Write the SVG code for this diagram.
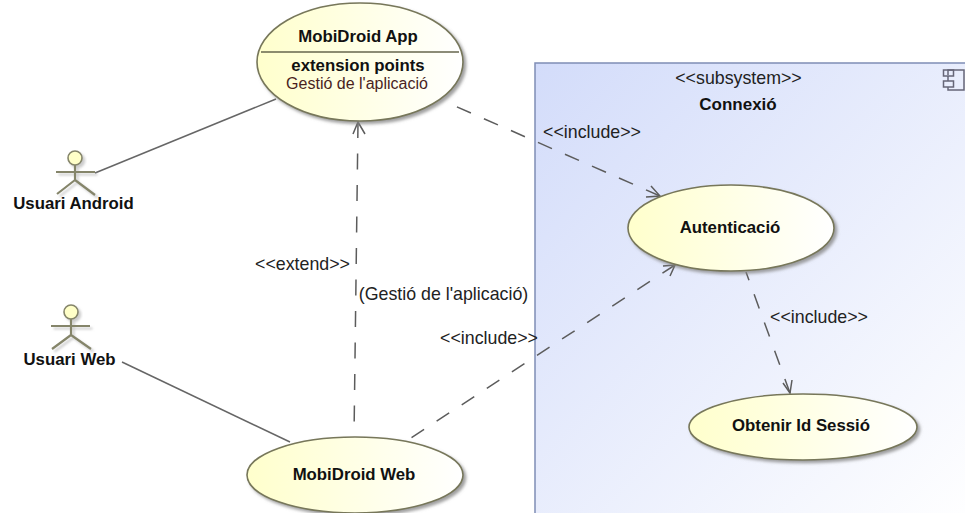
<svg xmlns="http://www.w3.org/2000/svg" width="965" height="513" viewBox="0 0 965 513">
<style>
text{font-family:"Liberation Sans",Arial,sans-serif;font-size:17.800px;fill:#222;text-anchor:middle}
.b{font-weight:bold;font-size:16.800px;fill:#111}
.uc{fill:url(#uc);stroke:#77775a;stroke-width:1.6;filter:url(#sh)}
.act{fill:none;stroke:#85856a;stroke-width:2.200;filter:url(#sh2)}
.head-ball{fill:#ffffc8;stroke:#85856a;stroke-width:1.6;filter:url(#sh2)}
.assoc{fill:none;stroke:#666;stroke-width:1.5}
.dash{fill:none;stroke:#5c5c5c;stroke-width:1.5;stroke-dasharray:15 15}
.head{fill:none;stroke:#5c5c5c;stroke-width:1.5}
</style>
<defs>
<linearGradient id="uc" x1="0" y1="0" x2="1" y2="0"><stop offset="0" stop-color="#ffffcc"/><stop offset="1" stop-color="#ffffff"/></linearGradient>
<linearGradient id="sub" x1="0" y1="0" x2="1" y2="1"><stop offset="0" stop-color="#d3dcfa"/><stop offset="1" stop-color="#ffffff"/></linearGradient>
<filter id="sh" x="-10%" y="-10%" width="125%" height="130%"><feDropShadow dx="2.500" dy="2.500" stdDeviation="1.500" flood-color="#888" flood-opacity=".8"/></filter>
<filter id="sh2" x="-20%" y="-20%" width="150%" height="150%"><feDropShadow dx="2.500" dy="2.500" stdDeviation="1" flood-color="#aaa" flood-opacity=".6"/></filter>
</defs>
<rect width="965" height="513" fill="#fff"/>
<g id="subsystem">
<rect x="535" y="63" width="440" height="460" fill="url(#sub)" stroke="#7f8db5" stroke-width="1.5"/>
<text x="738.500" y="84">&lt;&lt;subsystem&gt;&gt;</text>
<text x="738" y="110" class="b" style="font-size:17px">Connexió</text>
<path d="M948 75V70H964V90H948V87M948 81V76" fill="none" stroke="#667" stroke-width="1.5"/>
<rect x="943.500" y="70" width="10" height="6" fill="none" stroke="#667" stroke-width="1.5"/>
<rect x="943.500" y="81" width="10" height="6" fill="none" stroke="#667" stroke-width="1.5"/>
</g>
<g id="connectors">
<path class="assoc" d="M95 173L276 99"/>
<path class="assoc" d="M122 362L290 442"/>
<path class="dash" d="M358 122L354 437" style="stroke-dasharray:16 15.500"/>
<path class="head" d="M353 134L358 122L365 134"/>
<path class="dash" d="M660 196L455 106" style="stroke-dasharray:15.300 14.200"/>
<path class="head" d="M651 186L660 196L646 197"/>
<path class="dash" d="M675 265L411 438"/>
<path class="head" d="M663 266L675 265L670 276"/>
<path class="dash" d="M790 393L746 272"/>
<path class="head" d="M783 383L790 393L792 380"/>
<text x="302.500" y="270">&lt;&lt;extend&gt;&gt;</text>
<text x="443.500" y="300">(Gestió de l'aplicació)</text>
<text x="592" y="138">&lt;&lt;include&gt;&gt;</text>
<text x="489" y="344">&lt;&lt;include&gt;&gt;</text>
<text x="819" y="323">&lt;&lt;include&gt;&gt;</text>
</g>
<g id="mobidroid-app">
<ellipse class="uc" cx="360" cy="62" rx="103" ry="59"/>
<path d="M261 52H459" stroke="#66664c" stroke-width="1.5"/>
<text x="358" y="42" class="b">MobiDroid App</text>
<text x="358" y="71" class="b">extension points</text>
<text x="357" y="89" style="fill:#4a1f1f;font-size:16px">Gestió de l'aplicació</text>
</g>
<g id="usuari-android">
<circle class="head-ball" cx="75" cy="158" r="7"/>
<path class="act" d="M75 165V180M56 172H95M75 180L57 194M75 180L95 195"/>
<text x="73.500" y="209" class="b">Usuari Android</text>
</g>
<g id="usuari-web">
<circle class="head-ball" cx="71" cy="312" r="7"/>
<path class="act" d="M71 319V335M51 326H90M71 335L52 349M71 335L91 349"/>
<text x="69.500" y="365" class="b">Usuari Web</text>
</g>
<g id="mobidroid-web">
<ellipse class="uc" cx="355" cy="475" rx="108" ry="38"/>
<text x="354" y="480" class="b">MobiDroid Web</text>
</g>
<g id="autenticacio">
<ellipse class="uc" cx="731" cy="228" rx="103" ry="43"/>
<text x="730" y="233" class="b">Autenticació</text>
</g>
<g id="obtenir">
<ellipse class="uc" cx="803" cy="427" rx="114" ry="33"/>
<text x="801" y="431" class="b">Obtenir Id Sessió</text>
</g>
</svg>
